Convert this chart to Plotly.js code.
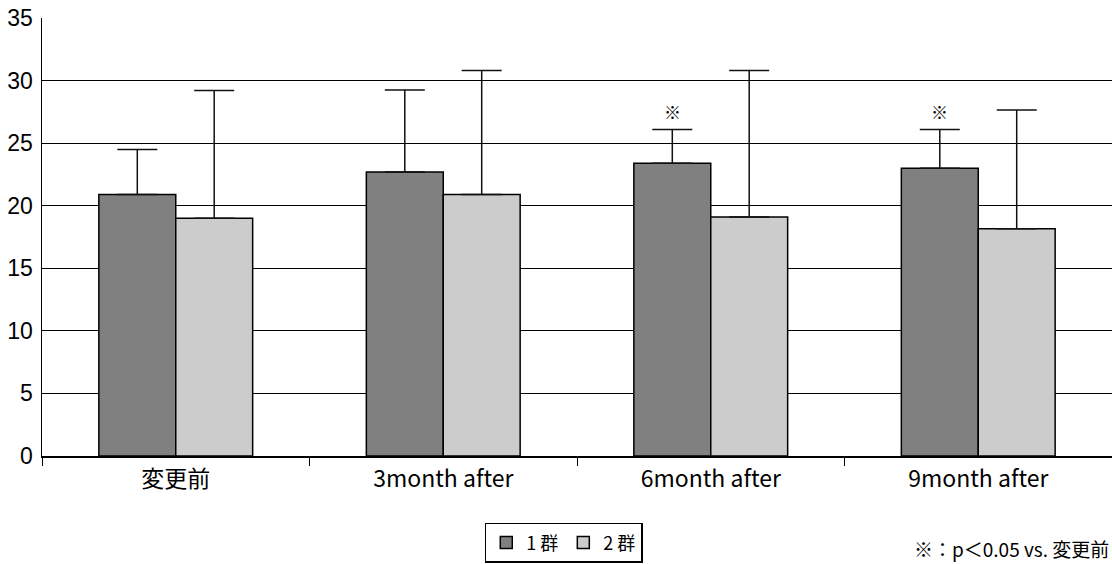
<!DOCTYPE html>
<html>
<head>
<meta charset="utf-8">
<script src="https://cdn.plot.ly/plotly-3.0.1.min.js"></script>
<style>html,body{margin:0;padding:0;background:#fff;}#chart{width:1112px;height:564px;}</style>
</head>
<body>
<div id="chart"></div>
<script>
const categories = ["変更前", "3month after", "6month after", "9month after"];
const group1 = [20.9, 22.7, 23.4, 23.0];
const group1Err = [3.6, 6.55, 2.7, 3.1];
const group2 = [19.0, 20.9, 19.1, 18.15];
const group2Err = [10.2, 9.9, 11.7, 9.5];
const significant = [false, false, true, true];
const yTicks = [0, 5, 10, 15, 20, 25, 30, 35];
const seriesNames = ["1 群", "2 群"];

const FONT = "'Noto Sans CJK JP', 'Liberation Sans', sans-serif";
const BARGAP = 0.425;
const barWidth = (1 - BARGAP) / 2;

const traces = [
  {
    type: 'bar', name: seriesNames[0], x: categories, y: group1,
    marker: {color: '#808080', line: {color: '#000', width: 1.5}},
    error_y: {type: 'data', symmetric: false, array: group1Err, arrayminus: group1.map(() => 0), color: '#111', thickness: 1.5, width: 20}
  },
  {
    type: 'bar', name: seriesNames[1], x: categories, y: group2,
    marker: {color: '#cccccc', line: {color: '#000', width: 1.5}},
    error_y: {type: 'data', symmetric: false, array: group2Err, arrayminus: group2.map(() => 0), color: '#111', thickness: 1.5, width: 20}
  }
];

const annotations = [];
significant.forEach((s, i) => {
  if (s) {
    annotations.push({
      xref: 'x', yref: 'y', x: i - barWidth / 2, y: group1[i] + group1Err[i],
      yanchor: 'bottom', yshift: 3, text: '※', showarrow: false,
      font: {family: FONT, size: 17, color: '#000'}
    });
  }
});
annotations.push({
  xref: 'paper', yref: 'paper', x: 1, y: -0.212, xanchor: 'right', yanchor: 'middle', xshift: -1,
  text: '※：p＜0.05 vs. 変更前', showarrow: false,
  font: {family: FONT, size: 19, color: '#000'}
});

const layout = {
  width: 1112, height: 564,
  margin: {l: 42, r: 0, t: 18, b: 108},
  paper_bgcolor: '#fff', plot_bgcolor: '#fff',
  barmode: 'group', bargap: BARGAP, bargroupgap: 0,
  font: {family: FONT, color: '#000'},
  showlegend: true,
  legend: {
    orientation: 'h', xref: 'container', yref: 'container',
    x: 0.507, xanchor: 'center', y: 0.002, yanchor: 'bottom',
    bordercolor: '#000', borderwidth: 1.5, font: {family: FONT, size: 18, color: '#000'},
    itemwidth: 30, traceorder: 'normal', tracegroupgap: 0
  },
  xaxis: {
    type: 'category', showline: true, linecolor: '#000', linewidth: 1.5,
    ticks: 'outside', tickson: 'boundaries', ticklen: 8, tickcolor: '#000', tickwidth: 1,
    showgrid: false, tickfont: {family: FONT, size: 23, color: '#000'}, ticklabelstandoff: 2
  },
  yaxis: {
    range: [0, 35], tickvals: yTicks, ticktext: yTicks.map(String),
    showline: true, linecolor: '#000', linewidth: 1.5,
    showgrid: true, gridcolor: '#000', gridwidth: 1, zeroline: false,
    ticks: '', ticklabelstandoff: 3,
    tickfont: {family: "'Liberation Sans', sans-serif", size: 23, color: '#000'}
  },
  annotations: annotations
};

Plotly.newPlot('chart', traces, layout, {displayModeBar: false, staticPlot: true});
</script>
</body>
</html>
